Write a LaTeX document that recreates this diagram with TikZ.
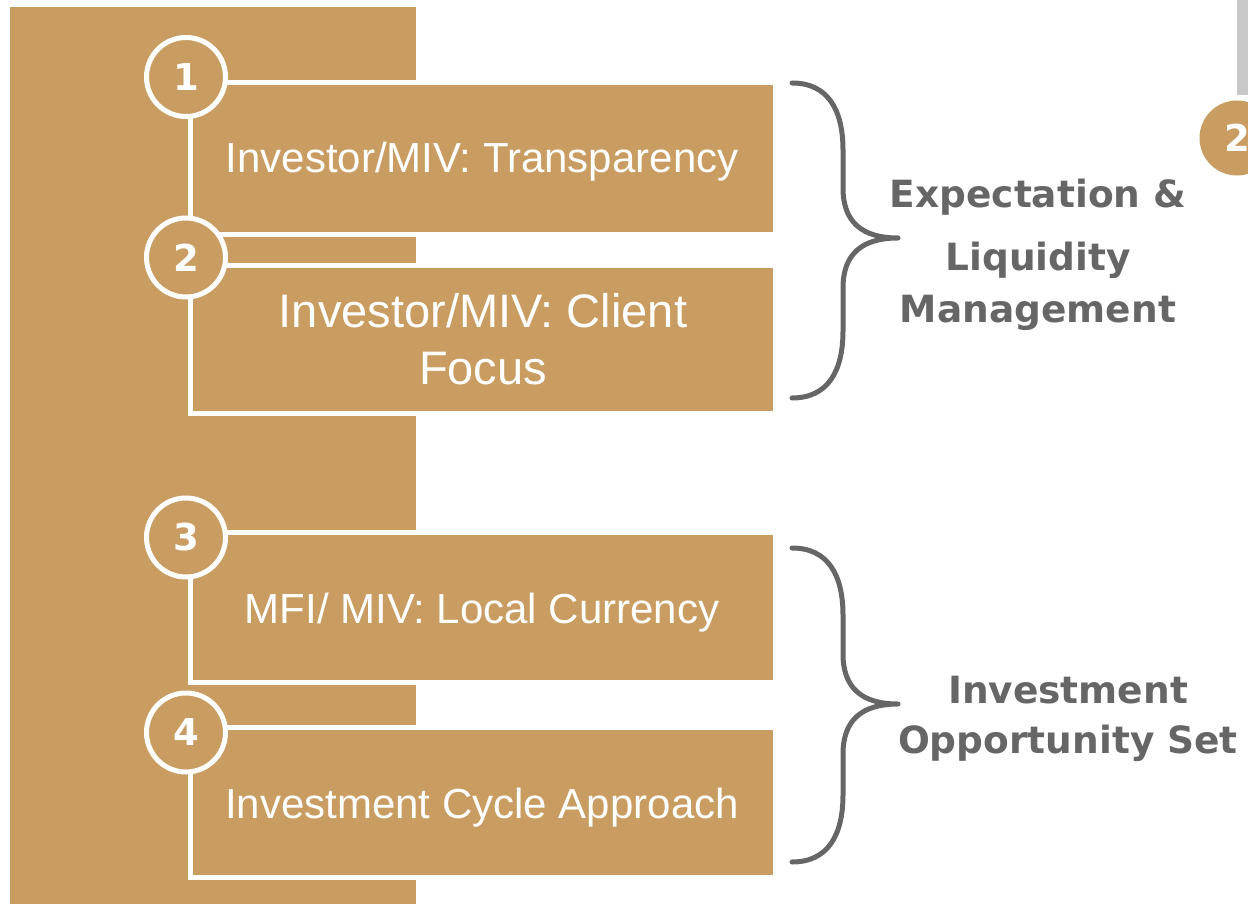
\documentclass[tikz,border=0pt]{standalone}
\usepackage{fontspec}
\setmainfont{Liberation Sans}
\newfontfamily\lblfont{DejaVu Sans}
\definecolor{gold}{HTML}{C99D61}
\definecolor{txtgrey}{HTML}{666666}
\definecolor{bargrey}{HTML}{C8C8C8}
\tikzset{
  itembox/.style={rectangle, draw=white, line width=5pt, fill=gold, inner sep=0pt,
    minimum width=585pt},
  itemtext/.style={anchor=base, inner sep=0pt, text=white, font=\fontsize{42}{50}\selectfont},
  numcircle/.style={circle, draw=white, line width=5pt, fill=gold, inner sep=0pt,
    minimum size=79pt, text=white, font=\lblfont\bfseries\fontsize{37}{40}\selectfont},
  grouplabel/.style={anchor=base, text=txtgrey, inner sep=0pt,
    font=\lblfont\bfseries\fontsize{37.5}{44}\selectfont},
  brace/.style={draw=txtgrey, line width=5pt, line cap=round, line join=round}
}
\begin{document}
\begin{tikzpicture}[x=1pt, y=-1pt]
\useasboundingbox (0,0) rectangle (1248,904);
\clip (0,0) rectangle (1248,904);
% background panel
\fill[gold] (10,7) rectangle (416,904);
% item boxes
\node[itembox, minimum height=152.5pt] (box1) at (483,158.75) {};
\node[itembox, minimum height=147.5pt] (box2) at (483,339.5) {};
\node[itembox, minimum height=150pt] (box3) at (483,607.5) {};
\node[itembox, minimum height=150pt] (box4) at (483,802.5) {};
\node[itemtext] (t1) at (482,173) {Investor/MIV: Transparency};
\node[itemtext, font=\fontsize{47}{56}\selectfont] (t2a) at (483,327) {Investor/MIV: Client};
\node[itemtext, font=\fontsize{47}{56}\selectfont] (t2b) at (483,384) {Focus};
\node[itemtext] (t3) at (482,623) {MFI/ MIV: Local Currency};
\node[itemtext] (t4) at (482,818) {Investment Cycle Approach};
% number circles
\node[numcircle] (c1) at (186,77) {1};
\node[numcircle] (c2) at (186,257.5) {2};
\node[numcircle] (c3) at (186,537.5) {3};
\node[numcircle] (c4) at (186,732.5) {4};
% braces
\coordinate (bt1) at (792,83);
\coordinate (bm1) at (898,238);
\coordinate (bb1) at (792,398);
\draw[brace] (bt1) .. controls (828,83) and (843,110) .. (843,150) -- (843,188)
  .. controls (843,222) and (862,238) .. (bm1)
  .. controls (862,238) and (843,254) .. (843,288) -- (843,331)
  .. controls (843,371) and (828,398) .. (bb1);
\coordinate (bt2) at (792,548);
\coordinate (bm2) at (898,704);
\coordinate (bb2) at (792,862);
\draw[brace] (bt2) .. controls (828,548) and (843,575) .. (843,615) -- (843,654)
  .. controls (843,688) and (862,704) .. (bm2)
  .. controls (862,704) and (843,720) .. (843,754) -- (843,795)
  .. controls (843,835) and (828,862) .. (bb2);
% group labels
\node[grouplabel] (g1a) at (1038,208) {Expectation \&};
\node[grouplabel] (g1b) at (1038,270) {Liquidity};
\node[grouplabel] (g1c) at (1038,322) {Management};
\node[grouplabel] (g2a) at (1068,703) {Investment};
\node[grouplabel] (g2b) at (1068,753) {Opportunity Set};
% partial element at top right
\fill[bargrey] (1237,0) rectangle (1249,95);
\node[circle, fill=gold, inner sep=0pt, minimum size=75pt, text=white,
  font=\lblfont\bfseries\fontsize{37}{40}\selectfont] (c2b) at (1237,138) {2};
\end{tikzpicture}
\end{document}
